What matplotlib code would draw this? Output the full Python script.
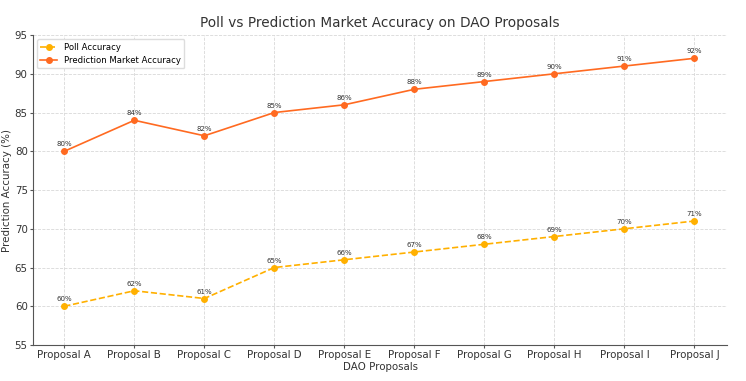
import matplotlib
matplotlib.use("Agg")
import matplotlib.pyplot as plt

proposals = ["Proposal A", "Proposal B", "Proposal C", "Proposal D", "Proposal E",
             "Proposal F", "Proposal G", "Proposal H", "Proposal I", "Proposal J"]
poll = [60, 62, 61, 65, 66, 67, 68, 69, 70, 71]
market = [80, 84, 82, 85, 86, 88, 89, 90, 91, 92]

poll_color = "#FFB000"
market_color = "#FF6A21"

fig = plt.figure(figsize=(7.46, 3.81), dpi=100)
ax = fig.add_axes([0.044, 0.0945, 0.931, 0.8135])

x = list(range(len(proposals)))
ax.plot(x, poll, linestyle="--", marker="o", markersize=4, color=poll_color,
        linewidth=1.2, label="Poll Accuracy")
ax.plot(x, market, linestyle="-", marker="o", markersize=4, color=market_color,
        linewidth=1.2, label="Prediction Market Accuracy")

for xi, v in zip(x, poll):
    ax.annotate(f"{v}%", (xi, v), textcoords="offset points", xytext=(0, 3.5),
                ha="center", fontsize=5, color="#333333")
for xi, v in zip(x, market):
    ax.annotate(f"{v}%", (xi, v), textcoords="offset points", xytext=(0, 3.5),
                ha="center", fontsize=5, color="#333333")

ax.set_xticks(x)
ax.set_xticklabels(proposals, fontsize=7.4, color="#333333")
ax.set_ylim(55, 95)
ax.set_yticks(range(55, 96, 5))
ax.tick_params(axis="y", labelsize=7.4, labelcolor="#333333")
ax.tick_params(axis="both", length=2.5, pad=1.2, color="#555555", width=0.8)
ax.set_xlim(-0.45, 9.47)
ax.grid(True, linestyle="--", color="#d8d8d8", linewidth=0.6)
for s in ["top", "right"]:
    ax.spines[s].set_visible(False)
for s in ["left", "bottom"]:
    ax.spines[s].set_color("#555555")

ax.set_title("Poll vs Prediction Market Accuracy on DAO Proposals", fontsize=9.8, color="#333333", pad=6)
ax.set_xlabel("DAO Proposals", fontsize=7.4, color="#333333", labelpad=1)
ax.set_ylabel("Prediction Accuracy (%)", fontsize=7.4, color="#333333", labelpad=2)
ax.legend(loc="upper left", fontsize=6.1, frameon=True, framealpha=1, edgecolor="#dddddd")

fig.savefig("out.png", dpi=100)
